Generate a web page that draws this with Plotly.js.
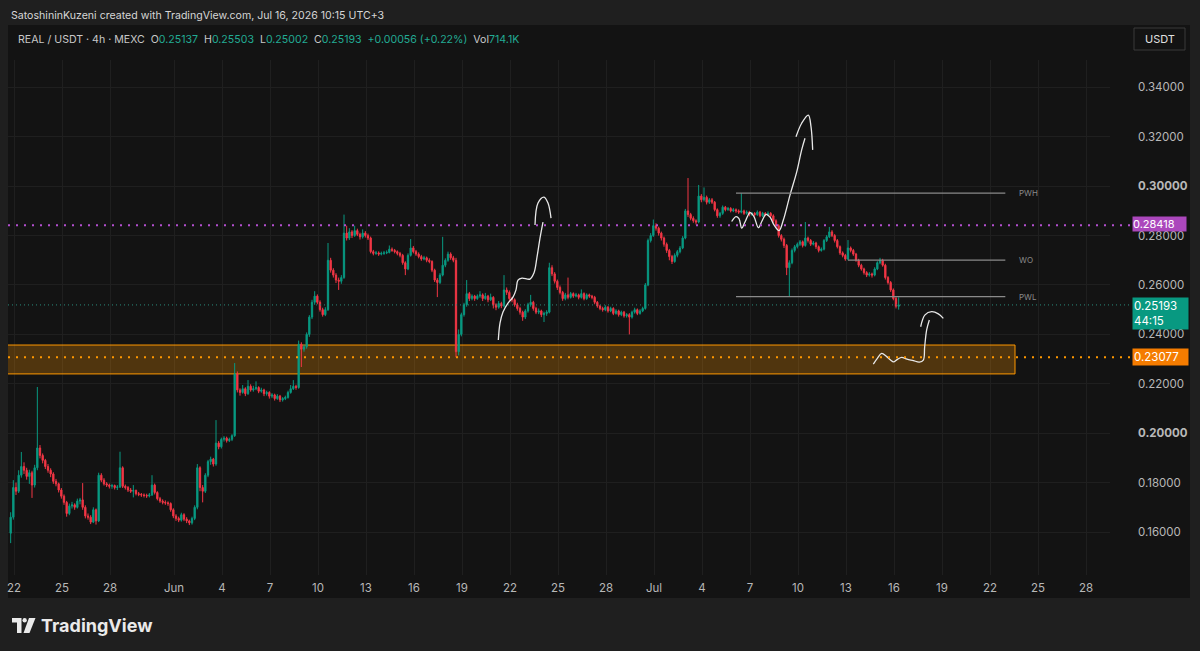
<!DOCTYPE html>
<html><head><meta charset="utf-8">
<script src="https://cdn.plot.ly/plotly-3.0.1.min.js"></script>
<style>html,body{margin:0;padding:0;background:#1f1f1f;overflow:hidden}#chart{width:1200px;height:651px}</style>
</head><body><div id="chart"></div>
<script>
// ---------- DATA (REAL/USDT 4h, MEXC) ----------
const firstCandle = '2026-05-21T19:00:00Z';   // 4h candles, times shown in UTC+3
const candleOpen = [
.1595,.1660,
.1780,.1765,.1830,.1865,.1850,.1825,
.1840,.1790,.1860,.1940,.1910,.1890,
.1865,.1850,.1835,.1805,.1795,.1770,
.1745,.1720,.1675,.1705,.1710,.1700,
.1725,.1730,.1700,.1665,.1660,.1640,
.1690,.1645,.1830,.1810,.1795,.1790,
.1785,.1788,.1780,.1782,.1860,.1785,
.1780,.1770,.1765,.1768,.1755,.1752,
.1750,.1748,.1746,.1750,.1790,.1760,
.1735,.1725,.1720,.1718,.1715,.1690,
.1665,.1655,.1648,.1670,.1652,.1645,
.1637,.1655,.1700,.1860,.1780,.1765,
.1830,.1885,.1895,.1875,.1960,.1945,
.1975,.1980,.1970,.1975,.1990,.2240,
.2175,.2165,.2180,.2160,.2190,.2175,
.2180,.2185,.2170,.2175,.2160,.2165,
.2150,.2155,.2140,.2150,.2135,.2140,
.2145,.2165,.2180,.2190,.2185,.2360,
.2340,.2350,.2400,.2470,.2530,.2555,
.2530,.2500,.2480,.2500,.2700,.2660,
.2640,.2620,.2615,.2630,.2810,.2790,
.2815,.2800,.2820,.2805,.2795,.2810,
.2800,.2790,.2735,.2728,.2730,.2725,
.2728,.2730,.2732,.2745,.2740,.2735,
.2728,.2720,.2690,.2665,.2720,.2750,
.2735,.2725,.2715,.2705,.2710,.2700,
.2695,.2660,.2620,.2610,.2640,.2680,
.2700,.2725,.2710,.2700,.2330,.2400,
.2480,.2520,.2565,.2545,.2555,.2545,
.2555,.2560,.2545,.2555,.2540,.2550,
.2520,.2510,.2525,.2515,.2580,.2570,
.2545,.2540,.2520,.2505,.2490,.2470,
.2495,.2520,.2530,.2505,.2490,.2495,
.2480,.2485,.2490,.2670,.2645,.2615,
.2590,.2570,.2545,.2560,.2550,.2565,
.2555,.2560,.2550,.2565,.2545,.2560,
.2555,.2550,.2530,.2515,.2505,.2500,
.2510,.2495,.2505,.2485,.2495,.2480,
.2490,.2475,.2480,.2470,.2490,.2500,
.2485,.2495,.2505,.2600,.2780,.2800,
.2840,.2830,.2810,.2790,.2765,.2740,
.2715,.2695,.2720,.2735,.2750,.2790,
.2900,.2885,.2870,.2860,.2855,.2960,
.2945,.2955,.2935,.2945,.2935,.2905,
.2880,.2890,.2915,.2905,.2910,.2900,
.2905,.2900,.2895,.2900,.2890,.2895,
.2885,.2890,.2885,.2895,.2880,.2890,
.2885,.2890,.2880,.2860,.2840,.2800,
.2785,.2760,.2670,.2690,.2740,.2755,
.2765,.2775,.2760,.2790,.2780,.2765,
.2770,.2755,.2740,.2745,.2780,.2795,
.2815,.2800,.2780,.2755,.2730,.2720,
.2705,.2750,.2740,.2725,.2700,.2680,
.2665,.2650,.2640,.2645,.2640,.2665,
.2690,.2700,.2680,.2630,.2610,.2580,
.2545,.25137];
const candleHigh = [
.1680,.1810,
.1800,.1850,.1924,.1882,.1860,.1852,
.1848,.1872,.2187,.1952,.1918,.1896,
.1875,.1858,.1842,.1815,.1800,.1778,
.1752,.1726,.1715,.1722,.1716,.1735,
.1738,.1798,.1708,.1675,.1668,.1700,
.1695,.1840,.1838,.1818,.1802,.1796,
.1795,.1792,.1790,.1925,.1866,.1792,
.1786,.1778,.1790,.1772,.1762,.1758,
.1756,.1755,.1758,.1830,.1796,.1765,
.1742,.1732,.1728,.1724,.1720,.1696,
.1672,.1662,.1678,.1676,.1660,.1650,
.1662,.1708,.1875,.1866,.1790,.1838,
.1892,.1905,.1900,.2053,.1968,.1982,
.1988,.1986,.1982,.1996,.2284,.2250,
.2182,.2195,.2186,.2215,.2198,.2192,
.2210,.2190,.2184,.2180,.2172,.2170,
.2162,.2160,.2158,.2155,.2146,.2152,
.2172,.2195,.2215,.2196,.2375,.2368,
.2358,.2408,.2478,.2540,.2575,.2562,
.2538,.2508,.2510,.2770,.2710,.2668,
.2648,.2630,.2640,.2885,.2840,.2830,
.2822,.2840,.2828,.2812,.2825,.2818,
.2808,.2796,.2742,.2738,.2736,.2735,
.2738,.2740,.2760,.2752,.2746,.2740,
.2734,.2726,.2696,.2728,.2786,.2758,
.2742,.2732,.2722,.2718,.2715,.2708,
.2700,.2666,.2628,.2648,.2795,.2708,
.2735,.2732,.2718,.2710,.2420,.2488,
.2528,.2620,.2572,.2562,.2560,.2562,
.2575,.2566,.2568,.2560,.2565,.2555,
.2526,.2535,.2532,.2640,.2590,.2578,
.2552,.2546,.2528,.2512,.2496,.2502,
.2528,.2560,.2536,.2512,.2505,.2500,
.2492,.2498,.2690,.2680,.2652,.2622,
.2598,.2576,.2568,.2630,.2572,.2570,
.2568,.2565,.2582,.2570,.2566,.2565,
.2560,.2556,.2535,.2520,.2512,.2518,
.2515,.2512,.2510,.2502,.2500,.2496,
.2495,.2486,.2486,.2496,.2508,.2505,
.2502,.2512,.2608,.2788,.2810,.2865,
.2850,.2836,.2816,.2796,.2772,.2746,
.2722,.2728,.2742,.2758,.2798,.2908,
.3033,.2892,.2878,.2866,.3005,.2968,
.2995,.2962,.2952,.2952,.2940,.2910,
.2896,.2922,.2920,.2916,.2915,.2912,
.2910,.2906,.2972,.2905,.2902,.2900,
.2896,.2895,.2902,.2900,.2896,.2895,
.2898,.2895,.2886,.2866,.2846,.2806,
.2792,.2766,.2700,.2748,.2762,.2772,
.2782,.2780,.2855,.2796,.2786,.2778,
.2775,.2760,.2752,.2786,.2802,.2835,
.2822,.2806,.2786,.2760,.2736,.2726,
.2782,.2756,.2746,.2730,.2706,.2686,
.2670,.2656,.2652,.2650,.2672,.2696,
.2710,.2706,.2686,.2636,.2616,.2586,
.2552,.25503];
const candleLow = [
.1555,.1650,
.1750,.1758,.1820,.1835,.1812,.1795,
.1738,.1780,.1850,.1898,.1878,.1855,
.1840,.1822,.1795,.1785,.1760,.1735,
.1710,.1662,.1668,.1695,.1690,.1695,
.1712,.1690,.1655,.1650,.1632,.1636,
.1630,.1640,.1802,.1788,.1782,.1776,
.1775,.1772,.1770,.1778,.1778,.1772,
.1762,.1758,.1740,.1748,.1745,.1742,
.1740,.1738,.1740,.1746,.1752,.1728,
.1718,.1712,.1710,.1706,.1682,.1656,
.1645,.1640,.1642,.1644,.1636,.1628,
.1630,.1648,.1692,.1765,.1720,.1758,
.1822,.1872,.1865,.1868,.1935,.1938,
.1966,.1962,.1964,.1968,.1985,.2165,
.2152,.2160,.2150,.2155,.2168,.2168,
.2174,.2162,.2164,.2150,.2152,.2140,
.2142,.2132,.2135,.2126,.2128,.2134,
.2140,.2160,.2175,.2176,.2180,.2268,
.2330,.2342,.2390,.2462,.2520,.2522,
.2492,.2472,.2474,.2495,.2650,.2630,
.2608,.2580,.2605,.2625,.2780,.2782,
.2790,.2795,.2798,.2784,.2788,.2792,
.2782,.2728,.2720,.2722,.2718,.2720,
.2722,.2725,.2728,.2734,.2728,.2720,
.2712,.2682,.2640,.2660,.2715,.2728,
.2718,.2708,.2698,.2700,.2692,.2688,
.2652,.2612,.2551,.2604,.2635,.2672,
.2694,.2702,.2692,.23077,.2315,.2392,
.2472,.2512,.2535,.2538,.2536,.2540,
.2548,.2535,.2540,.2530,.2535,.2505,
.2498,.2504,.2506,.2510,.2560,.2536,
.2530,.2512,.2496,.2480,.2455,.2462,
.2488,.2512,.2496,.2482,.2482,.2470,
.2450,.2475,.2485,.2636,.2606,.2580,
.2562,.2536,.2538,.2542,.2545,.2548,
.2550,.2542,.2545,.2538,.2540,.2548,
.2542,.2522,.2508,.2498,.2492,.2494,
.2488,.2490,.2478,.2480,.2472,.2474,
.2468,.2468,.2400,.2464,.2484,.2478,
.2480,.2490,.2500,.2595,.2772,.2795,
.2820,.2800,.2780,.2755,.2730,.2700,
.2685,.2690,.2712,.2728,.2745,.2785,
.2875,.2862,.2852,.2845,.2850,.2935,
.2938,.2926,.2928,.2928,.2898,.2872,
.2872,.2884,.2898,.2900,.2894,.2895,
.2892,.2888,.2890,.2884,.2885,.2878,
.2880,.2878,.2880,.2874,.2875,.2878,
.2880,.2872,.2852,.2832,.2792,.2776,
.2750,.2640,.2553,.2684,.2732,.2748,
.2758,.2752,.2755,.2772,.2758,.2760,
.2746,.2732,.2735,.2740,.2774,.2790,
.2794,.2772,.2748,.2722,.2712,.2698,
.2700,.2732,.2718,.2694,.2672,.2658,
.2642,.2632,.2634,.2630,.2635,.2660,
.2684,.2674,.2622,.2602,.2572,.2538,
.2505,.25002];
const candleClose = [
.1660,.1780,
.1765,.1830,.1865,.1850,.1825,.1840,
.1790,.1860,.1940,.1910,.1890,.1865,
.1850,.1835,.1805,.1795,.1770,.1745,
.1720,.1675,.1705,.1710,.1700,.1725,
.1730,.1700,.1665,.1660,.1640,.1690,
.1645,.1830,.1810,.1795,.1790,.1785,
.1788,.1780,.1782,.1860,.1785,.1780,
.1770,.1765,.1768,.1755,.1752,.1750,
.1748,.1746,.1750,.1790,.1760,.1735,
.1725,.1720,.1718,.1715,.1690,.1665,
.1655,.1648,.1670,.1652,.1645,.1637,
.1655,.1700,.1860,.1780,.1765,.1830,
.1885,.1895,.1875,.1960,.1945,.1975,
.1980,.1970,.1975,.1990,.2240,.2175,
.2165,.2180,.2160,.2190,.2175,.2180,
.2185,.2170,.2175,.2160,.2165,.2150,
.2155,.2140,.2150,.2135,.2140,.2145,
.2165,.2180,.2190,.2185,.2360,.2340,
.2350,.2400,.2470,.2530,.2555,.2530,
.2500,.2480,.2500,.2700,.2660,.2640,
.2620,.2615,.2630,.2810,.2790,.2815,
.2800,.2820,.2805,.2795,.2810,.2800,
.2790,.2735,.2728,.2730,.2725,.2728,
.2730,.2732,.2745,.2740,.2735,.2728,
.2720,.2690,.2665,.2720,.2750,.2735,
.2725,.2715,.2705,.2710,.2700,.2695,
.2660,.2620,.2610,.2640,.2680,.2700,
.2725,.2710,.2700,.2330,.2400,.2480,
.2520,.2565,.2545,.2555,.2545,.2555,
.2560,.2545,.2555,.2540,.2550,.2520,
.2510,.2525,.2515,.2580,.2570,.2545,
.2540,.2520,.2505,.2490,.2470,.2495,
.2520,.2530,.2505,.2490,.2495,.2480,
.2485,.2490,.2670,.2645,.2615,.2590,
.2570,.2545,.2560,.2550,.2565,.2555,
.2560,.2550,.2565,.2545,.2560,.2555,
.2550,.2530,.2515,.2505,.2500,.2510,
.2495,.2505,.2485,.2495,.2480,.2490,
.2475,.2480,.2470,.2490,.2500,.2485,
.2495,.2505,.2600,.2780,.2800,.2840,
.2830,.2810,.2790,.2765,.2740,.2715,
.2695,.2720,.2735,.2750,.2790,.2900,
.2885,.2870,.2860,.2855,.2960,.2945,
.2955,.2935,.2945,.2935,.2905,.2880,
.2890,.2915,.2905,.2910,.2900,.2905,
.2900,.2895,.2900,.2890,.2895,.2885,
.2890,.2885,.2895,.2880,.2890,.2885,
.2890,.2880,.2860,.2840,.2800,.2785,
.2760,.2670,.2690,.2740,.2755,.2765,
.2775,.2760,.2790,.2780,.2765,.2770,
.2755,.2740,.2745,.2780,.2795,.2815,
.2800,.2780,.2755,.2730,.2720,.2705,
.2750,.2740,.2725,.2700,.2680,.2665,
.2650,.2640,.2645,.2640,.2665,.2690,
.2700,.2680,.2630,.2610,.2580,.2545,
.25137,.25193];

// x-axis ticks
const xTickDates = ['2026-05-22','2026-05-25','2026-05-28','2026-06-01','2026-06-04','2026-06-07','2026-06-10','2026-06-13','2026-06-16','2026-06-19','2026-06-22','2026-06-25','2026-06-28','2026-07-01','2026-07-04','2026-07-07','2026-07-10','2026-07-13','2026-07-16','2026-07-19','2026-07-22','2026-07-25','2026-07-28'];
const xTickLabels = ['22','25','28','Jun','4','7','10','13','16','19','22','25','28','Jul','4','7','10','13','16','19','22','25','28'];
// y-axis ticks
const yTickValues = [0.16,0.18,0.20,0.22,0.24,0.26,0.28,0.30,0.32,0.34];
const yTickLabels = ['0.16000','0.18000','<b>0.20000</b>','0.22000','0.24000','0.26000','0.28000','<b>0.30000</b>','0.32000','0.34000'];

// marked price levels
const priceLevelNames  = ['magenta','zone','last'];
const priceLevelValues = [0.28418, 0.23077, 0.25193];
const lastCountdown = '44:15';
// demand zone
const zoneBottom = 0.2240, zoneTop = 0.2357, zoneEnd = '2026-07-23 13:30';
// weekly levels
const weekLevelNames  = ['PWH','WO','PWL'];
const weekLevelValues = [0.2972, 0.2701, 0.2553];
const weekLevelStarts = ['2026-07-06 03:00','2026-07-13 03:00','2026-07-06 03:00'];
const weekLevelEnd = '2026-07-22 23:00';

// hand drawings (date, price)
const drawAX = ['2026-06-21 06:30','2026-06-21 09:00','2026-06-21 13:30','2026-06-21 21:00','2026-06-22 04:30','2026-06-22 09:00','2026-06-22 12:00','2026-06-22 18:00','2026-06-23 06:00','2026-06-23 12:00','2026-06-23 16:30','2026-06-23 21:00','2026-06-24 01:30'];
const drawAY = [0.2377,0.2446,0.2491,0.2527,0.2551,0.2580,0.2620,0.2628,0.2624,0.2649,0.2713,0.2790,0.2855];
const headAX = ['2026-06-23 13:30','2026-06-23 18:00','2026-06-24 03:00','2026-06-24 09:00','2026-06-24 13:30'];
const headAY = [0.2843,0.2932,0.2956,0.2932,0.2871];
const drawBX = ['2026-07-05 20:30','2026-07-06 03:00','2026-07-06 07:30','2026-07-06 11:30','2026-07-06 16:30','2026-07-07 00:00','2026-07-07 06:00','2026-07-07 12:30','2026-07-07 18:00','2026-07-08 00:00','2026-07-08 06:00','2026-07-08 12:00','2026-07-08 19:30','2026-07-09 02:00','2026-07-09 12:00','2026-07-09 22:00','2026-07-10 05:30','2026-07-10 10:30'];
const drawBY = [0.2857,0.2877,0.2869,0.2830,0.2855,0.2893,0.2877,0.2832,0.2859,0.2886,0.2875,0.2843,0.2820,0.2863,0.2964,0.3057,0.3147,0.3194];
const headBX = ['2026-07-09 21:00','2026-07-10 05:30','2026-07-10 15:30','2026-07-10 19:30','2026-07-10 22:00'];
const headBY = [0.3200,0.3255,0.3288,0.3241,0.3147];
const drawCX = ['2026-07-14 17:00','2026-07-14 23:00','2026-07-15 05:30','2026-07-15 13:00','2026-07-15 23:00','2026-07-16 05:00','2026-07-16 11:30','2026-07-16 19:30','2026-07-17 05:00','2026-07-17 14:00','2026-07-17 20:00','2026-07-17 22:00','2026-07-18 01:00','2026-07-18 05:00'];
const drawCY = [0.2280,0.2303,0.2323,0.2310,0.2289,0.2299,0.2307,0.2300,0.2294,0.2288,0.2296,0.2350,0.2418,0.2458];
const headCX = ['2026-07-17 16:00','2026-07-17 22:30','2026-07-18 08:30','2026-07-18 18:30','2026-07-19 02:00'];
const headCY = [0.2431,0.2479,0.2492,0.2483,0.2465];

// ---------- BUILD ----------
const t0 = Date.parse(firstCandle);
const candleTime = candleClose.map((_, i) => new Date(t0 + i * 4 * 3600e3).toISOString().slice(0,16).replace('T',' '));

const UP = '#089981', DOWN = '#f23645';
const FONT = 'Inter, "Open Sans", "Liberation Sans", sans-serif';
const PL = 8, PR = 1110, PT = 60, PB = 575;
const px = x => (x - PL) / (PR - PL);
const py = y => (PB - y) / (PB - PT);

const drawLine = (xs, ys) => ({type:'scatter', mode:'lines', x:xs, y:ys, hoverinfo:'skip', showlegend:false,
  line:{color:'#e8e8e8', width:1.3, shape:'spline', smoothing:1}});

const traces = [
  {type:'candlestick', x:candleTime, open:candleOpen, high:candleHigh, low:candleLow, close:candleClose,
   increasing:{line:{color:UP, width:1}, fillcolor:UP},
   decreasing:{line:{color:DOWN, width:1}, fillcolor:DOWN},
   whiskerwidth:0, hoverinfo:'skip', showlegend:false},
  drawLine(drawAX, drawAY), drawLine(headAX, headAY),
  drawLine(drawBX, drawBY), drawLine(headBX, headBY),
  drawLine(drawCX, drawCY), drawLine(headCX, headCY)
];

const shapes = [
  {type:'rect', xref:'paper', yref:'paper', x0:px(8), x1:px(1190), y0:py(598), y1:py(25), fillcolor:'#131313', line:{width:0}, layer:'below'},
  {type:'rect', xref:'x', yref:'y', x0:'2026-05-20 00:00', x1:zoneEnd, y0:zoneBottom, y1:zoneTop,
   fillcolor:'rgba(255,152,0,0.26)', line:{color:'#ff9800', width:1}, layer:'between'},
  {type:'line', xref:'paper', yref:'y', x0:0, x1:px(1132), y0:priceLevelValues[0], y1:priceLevelValues[0], line:{color:'#b44fd0', width:2, dash:'2px,6px'}},
  {type:'line', xref:'paper', yref:'y', x0:0, x1:px(1132), y0:priceLevelValues[1], y1:priceLevelValues[1], line:{color:'#ff9800', width:2, dash:'2px,6px'}},
  {type:'line', xref:'paper', yref:'y', x0:0, x1:px(1132), y0:priceLevelValues[2], y1:priceLevelValues[2], line:{color:'#2a8c7c', width:1, dash:'1px,3px'}}
];
weekLevelValues.forEach((v, i) => shapes.push({type:'line', xref:'x', yref:'y', x0:weekLevelStarts[i], x1:weekLevelEnd, y0:v, y1:v, line:{color:'#8a8a8a', width:1.3}}));
// TradingView logo glyph
const P = (x, y) => px(x).toFixed(5) + ',' + py(y).toFixed(5);
shapes.push({type:'path', xref:'paper', yref:'paper', path:'M'+P(12,618)+' L'+P(21.5,618)+' L'+P(21.5,633)+' L'+P(17,633)+' L'+P(17,622.5)+' L'+P(12,622.5)+' Z', fillcolor:'#eaeaea', line:{width:0}});
shapes.push({type:'circle', xref:'paper', yref:'paper', x0:px(22.5), x1:px(26.8), y0:py(622.5), y1:py(618), fillcolor:'#eaeaea', line:{width:0}});
shapes.push({type:'path', xref:'paper', yref:'paper', path:'M'+P(29,618)+' L'+P(35.5,618)+' L'+P(29.5,633)+' L'+P(23.5,633)+' Z', fillcolor:'#eaeaea', line:{width:0}});
// USDT button outline
shapes.push({type:'rect', xref:'paper', yref:'paper', x0:px(1134), x1:px(1185), y0:py(50), y1:py(28), line:{color:'#3a3a3a', width:1}, fillcolor:'#131313'});

const teal = s => '<span style="color:#22ab94">' + s + '</span>';
const sp = '\u00a0\u00a0';
const header = 'REAL / USDT · 4h · MEXC' + sp + 'O' + teal('0.25137') + sp + 'H' + teal('0.25503') + sp + 'L' + teal('0.25002') + sp + 'C' + teal('0.25193') + sp + teal('+0.00056 (+0.22%)') + sp + 'Vol' + teal('714.1K');

const annotations = [
  {xref:'paper', yref:'paper', x:px(9), y:py(15), xanchor:'left', yanchor:'middle', showarrow:false,
   text:'SatoshininKuzeni created with TradingView.com, Jul 16, 2026 10:15 UTC+3', font:{family:FONT, size:10.6, color:'#d6d6d6'}},
  {xref:'paper', yref:'paper', x:px(16), y:py(39.5), xanchor:'left', yanchor:'middle', showarrow:false,
   text:header, font:{family:FONT, size:10.6, color:'#c8c8c8'}},
  {xref:'paper', yref:'paper', x:px(1159.5), y:py(39), xanchor:'center', yanchor:'middle', showarrow:false,
   text:'USDT', font:{family:FONT, size:11, color:'#e0e0e0'}},
  {xref:'paper', yref:'y', x:px(1132), y:priceLevelValues[0], xanchor:'left', yanchor:'middle', yshift:1, showarrow:false, align:'left',
   text:'0.28418', font:{family:FONT, size:11, color:'#ffffff'}, bgcolor:'#ab47bc', borderpad:0, width:53, height:14},
  {xref:'paper', yref:'y', x:px(1132), y:priceLevelValues[1], xanchor:'left', yanchor:'middle', showarrow:false, align:'left',
   text:'0.23077', font:{family:FONT, size:11.5, color:'#ffffff'}, bgcolor:'#f57c00', borderpad:1, width:53},
  {xref:'paper', yref:'y', x:px(1132), y:priceLevelValues[2], xanchor:'left', yanchor:'top', yshift:8, showarrow:false, align:'left',
   text:'0.25193<br>' + lastCountdown, font:{family:FONT, size:11.5, color:'#ffffff'}, bgcolor:'#089981', borderpad:1, width:53}
];
weekLevelNames.forEach((n, i) => annotations.push({xref:'paper', yref:'y', x:px(1017), y:weekLevelValues[i], xanchor:'left', yanchor:'middle',
  showarrow:false, text:n, font:{family:FONT, size:8, color:'#8a8a8a'}}));
annotations.push({xref:'paper', yref:'paper', x:px(39), y:py(625), xanchor:'left', yanchor:'middle', showarrow:false,
  text:'<b>TradingView</b>', font:{family:FONT, size:18, color:'#eaeaea'}});

const layout = {
  width:1200, height:651,
  margin:{l:PL, r:1200-PR, t:PT, b:651-PB},
  paper_bgcolor:'#1f1f1f', plot_bgcolor:'#131313',
  showlegend:false, dragmode:false,
  xaxis:{type:'date', range:['2026-05-21 15:00','2026-07-29 12:00'], tickvals:xTickDates, ticktext:xTickLabels,
    showgrid:true, gridcolor:'#1f1f1f', gridwidth:1, zeroline:false, showline:false, ticks:'', ticklabelstandoff:4,
    tickfont:{family:FONT, size:11.5, color:'#b8b8b8'}, rangeslider:{visible:false}, fixedrange:true},
  yaxis:{side:'right', range:[0.14259, 0.35109], tickvals:yTickValues, ticktext:yTickLabels,
    showgrid:true, gridcolor:'#1f1f1f', gridwidth:1, zeroline:false, showline:false, ticks:'', ticklabelstandoff:27,
    tickfont:{family:FONT, size:11.5, color:'#b8b8b8'}, fixedrange:true},
  shapes:shapes, annotations:annotations
};

Plotly.newPlot('chart', traces, layout, {staticPlot:true, displayModeBar:false});
</script>
</body></html>
